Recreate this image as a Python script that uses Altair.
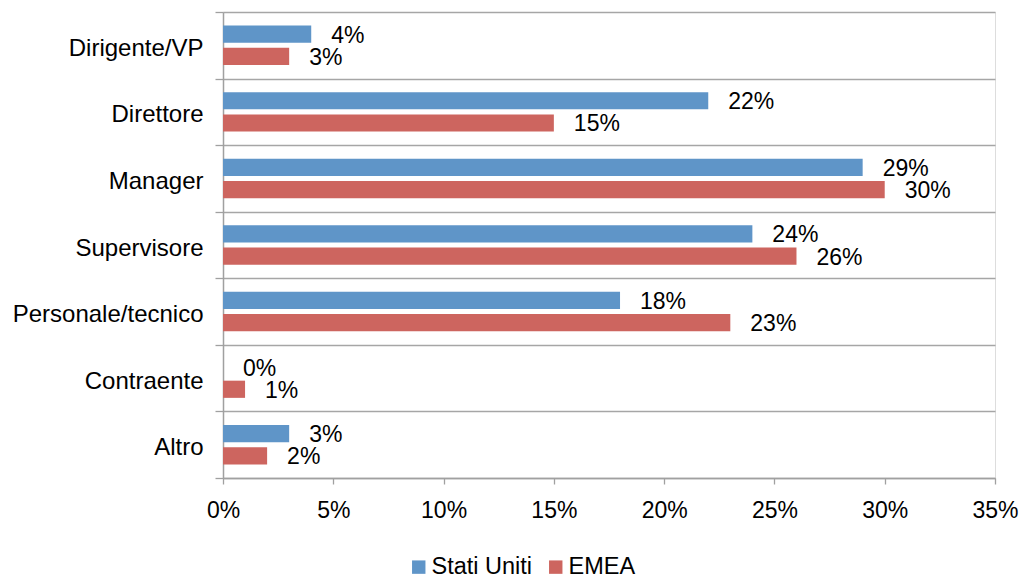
import altair as alt
import pandas as pd

categories = ["Dirigente/VP", "Direttore", "Manager", "Supervisore",
              "Personale/tecnico", "Contraente", "Altro"]
series = ["Stati Uniti", "EMEA"]
us_values = [4, 22, 29, 24, 18, 0, 3]
emea_values = [3, 15, 30, 26, 23, 1, 2]
x_ticks = [0, 0.05, 0.10, 0.15, 0.20, 0.25, 0.30, 0.35]
colors = ["#5f95c8", "#cd655f"]

rows = []
for c, u, e in zip(categories, us_values, emea_values):
    rows.append({"cat": c, "serie": series[0], "val": u / 100})
    rows.append({"cat": c, "serie": series[1], "val": e / 100})
df = pd.DataFrame(rows)

FONT = "Liberation Sans"

y_enc = alt.Y("cat:N", sort=categories, title=None,
              scale=alt.Scale(paddingInner=0, paddingOuter=0),
              axis=alt.Axis(tickBand="extent", grid=True, gridColor="#a6a6a6",
                            gridWidth=1.3, domainColor="#a0a0a0", domainWidth=1.5,
                            tickColor="#a0a0a0", tickSize=8, tickWidth=1.3,
                            labelFontSize=24, labelFont=FONT, labelColor="#000",
                            labelPadding=12, labelLimit=400, labelOffset=3))
yoff = alt.YOffset("serie:N", sort=series,
                   scale=alt.Scale(paddingInner=0.227, paddingOuter=0.61))
x_enc = alt.X("val:Q", title=None,
              scale=alt.Scale(domain=[0, 0.35], nice=False),
              axis=alt.Axis(values=x_ticks, format=".0%", grid=False,
                            domainColor="#a0a0a0", domainWidth=1.5,
                            tickColor="#a0a0a0", tickSize=6, tickWidth=1.3,
                            labelFontSize=23, labelFont=FONT, labelColor="#000",
                            labelPadding=15, labelFlush=False, labelOverlap=False))

color_enc = alt.Color("serie:N", sort=series,
                      scale=alt.Scale(domain=series, range=colors),
                      legend=alt.Legend(title=None, orient="none", direction="horizontal",
                                        legendX=184, legendY=543,
                                        symbolType="square", symbolSize=180,
                                        symbolStrokeWidth=0, labelFontSize=23.5,
                                        labelFont=FONT, labelColor="#000",
                                        labelOffset=1, columnPadding=11))

bars = alt.Chart(df).mark_bar().encode(
    y=y_enc, yOffset=yoff, x=x_enc, color=color_enc)

labels = alt.Chart(df).mark_text(align="left", baseline="middle", dx=20, dy=1.5,
                                 fontSize=23, font=FONT, color="#000").encode(
    y=alt.Y("cat:N", sort=categories), yOffset=yoff, x="val:Q",
    text=alt.Text("val:Q", format=".0%"))

chart = alt.layer(bars, labels).properties(
    width=772, height=466,
    autosize=alt.AutoSizeParams(type="none"),
    padding={"left": 223, "top": 12, "right": 25, "bottom": 100},
).configure_view(stroke=None).configure(background="white")

chart.save("out.html", embed_options={"renderer": "svg", "actions": False})
